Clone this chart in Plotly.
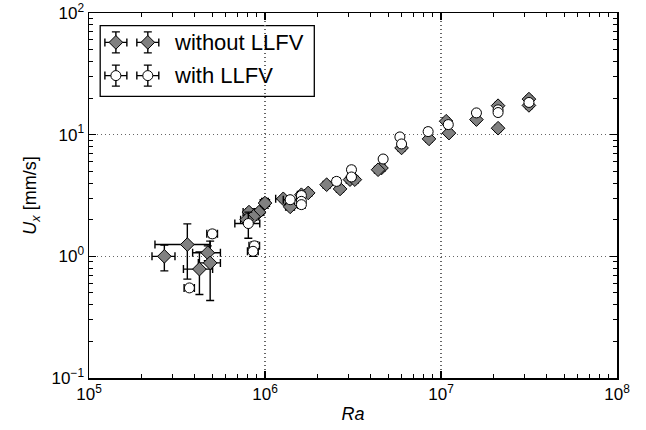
import plotly.graph_objects as go

# ---------------- data ----------------
ra_without = [2.68e5, 3.62e5, 4.73e5, 4.24e5, 4.88e5,
              1.00e6, 9.25e5, 8.11e5, 8.59e5, 7.87e5,
              1.27e6, 1.39e6, 1.61e6, 1.76e6, 2.24e6, 2.67e6,
              3.04e6, 3.24e6, 4.59e6, 4.39e6, 5.97e6, 8.55e6,
              1.07e7, 1.11e7, 1.59e7, 2.11e7, 2.11e7, 3.16e7, 3.16e7]
u_without = [1.00, 1.25, 1.07, 0.785, 0.883,
             2.74, 2.31, 2.31, 2.13, 2.00,
             2.97, 2.55, 3.21, 3.32, 3.88, 3.58,
             4.27, 4.27, 5.32, 5.15, 7.78, 9.23,
             12.9, 10.3, 13.3, 11.3, 17.3, 19.6, 17.4]
ra_err_without = [0.40e5, 1.25e5, 0.85e5, 0.80e5, 0.70e5,
                  0.06e6, 0.06e6, 0.06e6, 0.06e6, 0.06e6,
                  0.12e6, 0.08e6, 0.08e6, 0.08e6, 0.10e6, 0.12e6,
                  0.14e6, 0.14e6, 0.20e6, 0.20e6, 0.25e6, 0.35e6,
                  0.45e6, 0.45e6, 0.60e6, 0.80e6, 0.80e6, 1.2e6, 1.2e6]
u_err_without = [0.24, 0.60, 0.15, 0.30, 0.45,
                 0.25, 0.15, 0.15, 0.15, 0.15,
                 0.15, 0.15, 0.15, 0.15, 0.15, 0.15,
                 0.20, 0.20, 0.25, 0.25, 0.35, 0.40,
                 0.50, 0.50, 0.60, 0.50, 0.70, 0.80, 0.80]

ra_with = [3.72e5, 5.02e5, 8.04e5, 8.71e5, 8.55e5,
           1.39e6, 1.61e6, 1.61e6, 1.61e6, 2.55e6,
           3.10e6, 3.10e6, 4.69e6, 5.84e6, 5.97e6, 8.45e6,
           1.10e7, 1.59e7, 2.11e7, 2.11e7, 3.16e7]
u_with = [0.55, 1.53, 1.86, 1.22, 1.10,
          2.92, 3.16, 2.83, 2.66, 4.13,
          5.15, 4.49, 6.31, 9.58, 8.39, 10.6,
          12.1, 15.1, 16.0, 15.2, 18.4]
ra_err_with = [0.25e5, 0.35e5, 1.30e5, 0.60e5, 0.60e5,
               0.12e6, 0.08e6, 0.08e6, 0.08e6, 0.12e6,
               0.14e6, 0.14e6, 0.20e6, 0.25e6, 0.25e6, 0.35e6,
               0.45e6, 0.60e6, 0.80e6, 0.80e6, 1.2e6]
u_err_with = [0.03, 0.10, 0.45, 0.10, 0.10,
              0.15, 0.15, 0.15, 0.15, 0.15,
              0.20, 0.20, 0.25, 0.35, 0.35, 0.40,
              0.50, 0.60, 0.60, 0.60, 0.80]

series_names = ["without LLFV", "with LLFV"]
x_tick_vals = [1e5, 1e6, 1e7, 1e8]
x_tick_text = ["10<sup>5</sup>", "10<sup>6</sup>", "10<sup>7</sup>", "10<sup>8</sup>"]
y_tick_vals = [1e-1, 1e0, 1e1, 1e2]
y_tick_text = ["10<sup>\u22121</sup>", "10<sup>0</sup>", "10<sup>1</sup>", "10<sup>2</sup>"]

# ---------------- styling ----------------
FONT = "Liberation Sans, Arial, sans-serif"
GRAY = "#808080"
err_style = dict(type="data", color="black", thickness=1.4, width=4, visible=True)
diamond_style = dict(symbol="diamond", size=10.5, color=GRAY, line=dict(color="black", width=1))
circle_style = dict(symbol="circle", size=10, color="white", line=dict(color="black", width=1))

fig = go.Figure()

fig.add_trace(go.Scatter(
    x=ra_without, y=u_without, mode="markers", name=series_names[0],
    marker=diamond_style,
    error_x=dict(array=ra_err_without, **err_style),
    error_y=dict(array=u_err_without, **err_style),
    showlegend=False))

fig.add_trace(go.Scatter(
    x=ra_with, y=u_with, mode="markers", name=series_names[1],
    marker=circle_style,
    error_x=dict(array=ra_err_with, **err_style),
    error_y=dict(array=u_err_with, **err_style),
    showlegend=False))

# ---------------- custom legend (overlay axes in plot-fraction units) ----------------
leg_sym_x = [0.0509, 0.1114]
leg_rows_y = [0.9195, 0.8285]
for row_y, mstyle in zip(leg_rows_y, [diamond_style, circle_style]):
    fig.add_trace(go.Scatter(
        x=leg_sym_x, y=[row_y, row_y], mode="markers", xaxis="x2", yaxis="y2",
        marker=mstyle, showlegend=False, hoverinfo="skip",
        error_x=dict(type="constant", value=0.0208, color="black", thickness=1.4, width=4),
        error_y=dict(type="constant", value=0.0288, color="black", thickness=1.4, width=4)))

annotations = []
for row_y, name in zip(leg_rows_y, series_names):
    annotations.append(dict(x=0.158, y=row_y, xref="x2", yref="y2", text=name,
                            showarrow=False, xanchor="left", yanchor="middle",
                            font=dict(family=FONT, size=22, color="black")))

minor_x = [k * 10 ** n for n in range(5, 8) for k in range(2, 10)]
minor_y = [k * 10 ** n for n in range(-1, 2) for k in range(2, 10)]

axis_common = dict(
    type="log", showline=True, linecolor="black", linewidth=1.5, mirror="allticks",
    ticks="inside", ticklen=7, tickwidth=1.2, tickcolor="black",
    showgrid=True, gridcolor="#666666", griddash="1px,3px", gridwidth=1.2,
    zeroline=False, automargin=False,
    tickfont=dict(family=FONT, size=17, color="black"),
    minor=dict(ticks="inside", ticklen=4, tickwidth=1, tickcolor="black",
               showgrid=False, tickmode="array"),
)

fig.update_layout(
    width=646, height=430,
    margin=dict(l=89, r=29, t=13, b=52, autoexpand=False),
    paper_bgcolor="white", plot_bgcolor="white",
    font=dict(family=FONT, size=16, color="black"),
    xaxis=dict(axis_common, range=[5, 8], tickmode="array",
               tickvals=x_tick_vals, ticktext=x_tick_text,
               title=dict(text="<i>Ra</i>", standoff=4,
                          font=dict(family=FONT, size=18))),
    yaxis=dict(axis_common, range=[-1, 2], tickmode="array",
               tickvals=y_tick_vals, ticktext=y_tick_text,
               title=dict(text="<i>U</i><sub><i>x</i></sub> [mm/s]", standoff=10,
                          font=dict(family=FONT, size=18))),
    xaxis2=dict(overlaying="x", range=[0, 1], visible=False, fixedrange=True),
    yaxis2=dict(overlaying="y", range=[0, 1], visible=False, fixedrange=True),
    annotations=annotations,
    shapes=[dict(type="rect", xref="x2", yref="y2", x0=0.0212, x1=0.4267,
                 y0=0.7716, y1=0.9652, line=dict(color="black", width=1.3),
                 fillcolor="white", layer="below")],
    showlegend=False,
    hovermode=False,
)
fig.layout.xaxis.minor.tickvals = minor_x
fig.layout.yaxis.minor.tickvals = minor_y

# remove the browser's default 8px body margin so the figure sits at the page corner
fig.write_html("out.html",
               config={"displayModeBar": False, "staticPlot": True},
               post_script="document.body.style.margin='0';document.body.style.overflow='hidden';")
